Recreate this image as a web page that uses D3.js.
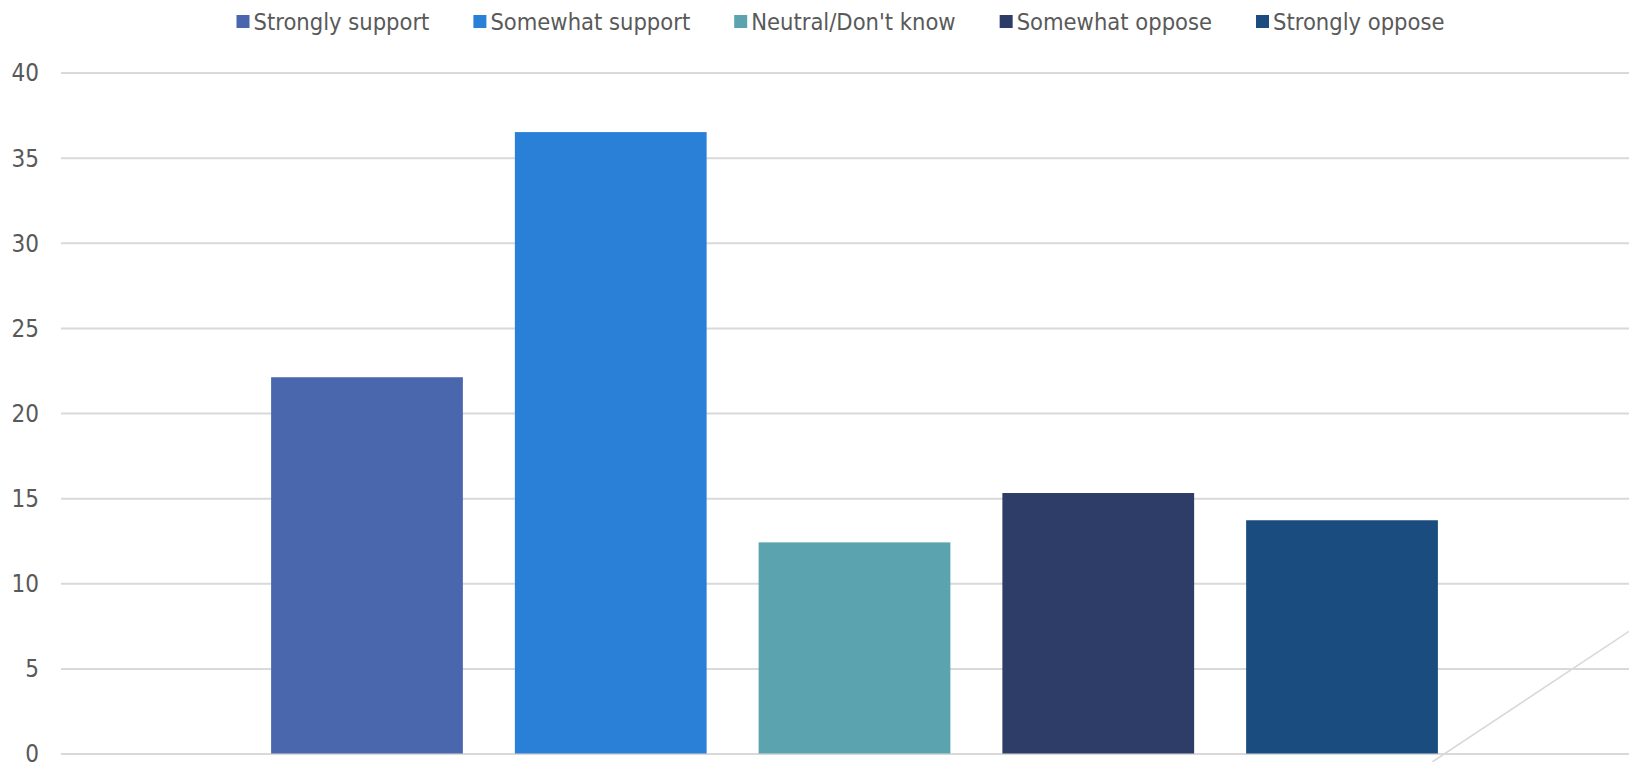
<!DOCTYPE html>
<html>
<head>
<meta charset="utf-8">
<script src="https://cdn.jsdelivr.net/npm/d3@7"></script>
<style>
html,body{margin:0;padding:0;background:#fff;overflow:hidden;}
svg{display:block;}
text{font-family:"DejaVu Sans Condensed","DejaVu Sans",sans-serif;}
</style>
</head>
<body>
<svg id="chart" width="1629" height="762"></svg>
<script>
const categories = ["Strongly support","Somewhat support","Neutral/Don't know","Somewhat oppose","Strongly oppose"];
const values = [22.1, 36.5, 12.4, 15.3, 13.7];
const colors = ["#4a67ae","#2a7fd7","#5ba3af","#2d3d68","#1a4c80"];
const yTicks = [0,5,10,15,20,25,30,35,40];
// stray light-grey diagonal line at bottom right: [category-index position, value]
const diagonal = [[4.37,-0.5],[5.18,7.2]];

const W = 1629, H = 762;
const svg = d3.select("#chart");

const y = d3.scaleLinear().domain([0,40]).range([753.5,72.5]);
const x = d3.scaleBand().domain(categories).range([245.1,1463.9]).paddingInner(0.2133).paddingOuter(0.1067);
const xi = d3.scaleLinear().domain([0,1]).range([x(categories[0])+x.bandwidth()/2, x(categories[1])+x.bandwidth()/2]);

// gridlines + labels via axis
const axis = d3.axisLeft(y).tickValues(yTicks).tickSize(-(W-61)).tickPadding(22).tickFormat(d3.format("d"));
const gAxis = svg.append("g").attr("transform","translate(61,0)").call(axis);
gAxis.select(".domain").remove();
gAxis.selectAll(".tick line").attr("stroke","#d9d9d9").attr("stroke-width",2);
gAxis.selectAll(".tick text").attr("fill","#595959").attr("font-size",24).attr("dy","0.35em");

// bars
svg.append("g").selectAll("rect").data(categories).join("rect")
  .attr("x",d=>x(d))
  .attr("width",x.bandwidth())
  .attr("y",(d,i)=>y(values[i]))
  .attr("height",(d,i)=>y(0)-y(values[i]))
  .attr("fill",(d,i)=>colors[i]);

// diagonal
svg.append("path")
  .attr("d", d3.line().x(d=>xi(d[0])).y(d=>y(d[1]))(diagonal))
  .attr("stroke","#d9d9d9").attr("stroke-width",1.6).attr("fill","none");

// legend
const leg = svg.append("g");
const items = leg.selectAll("g").data(categories).join("g");
items.append("rect").attr("width",13).attr("height",13).attr("y",15).attr("fill",(d,i)=>colors[i]);
items.append("text").attr("x",17).attr("y",30).attr("fill","#595959").attr("font-size",23.5).text(d=>d);
let cx = 0; const gap = 44;
items.each(function(){
  const g = d3.select(this);
  g.attr("transform",`translate(${cx},0)`);
  cx += 17 + g.select("text").node().getComputedTextLength() + gap;
});
const total = cx - gap;
leg.attr("transform",`translate(${840.5 - total/2},0)`);
</script>
</body>
</html>
